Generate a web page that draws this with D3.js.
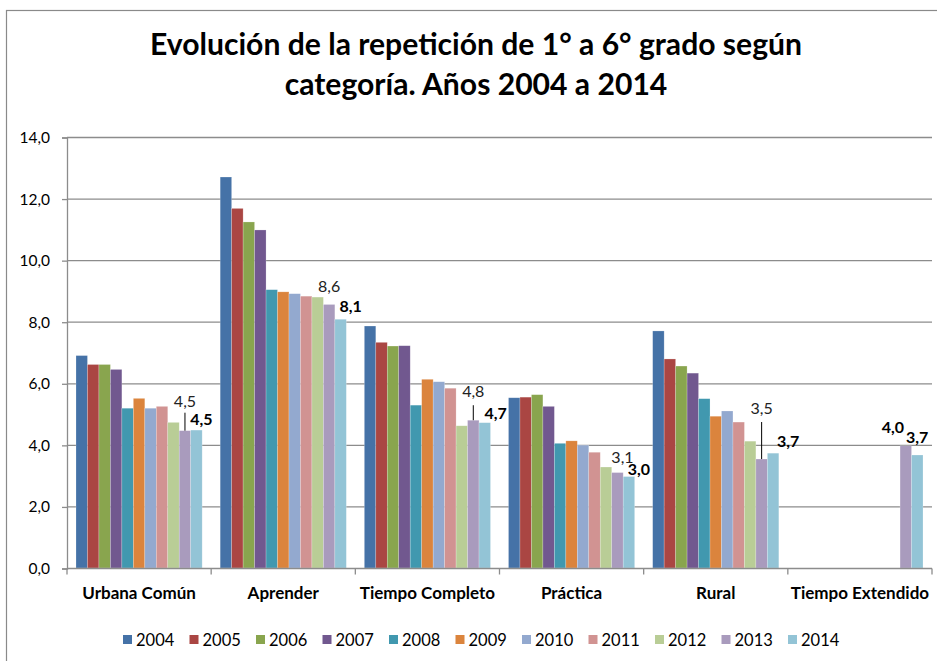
<!DOCTYPE html>
<html>
<head>
<meta charset="utf-8">
<script src="https://cdn.jsdelivr.net/npm/d3@7"></script>
<style>
  body { margin: 0; background: #fff; }
  text { font-family: Lato, "Liberation Sans", Arial, sans-serif; fill: #000; }
  .title { font-weight: bold; }
</style>
</head>
<body>
<div id="chart"></div>
<script>
// chart data
var categories = ["Urbana Común", "Aprender", "Tiempo Completo", "Práctica", "Rural", "Tiempo Extendido"];
var years = ["2004", "2005", "2006", "2007", "2008", "2009", "2010", "2011", "2012", "2013", "2014"];
var colors = ["#4572A7", "#AA4643", "#89A54E", "#71588F", "#4198AF", "#DB843D",
              "#93A9CF", "#D19392", "#B9CD96", "#A99BBD", "#93C4D6"];

var s2004 = [6.90, 12.70, 7.86, 5.53, 7.70, null];
var s2005 = [6.61, 11.68, 7.33, 5.55, 6.79, null];
var s2006 = [6.61, 11.24, 7.21, 5.63, 6.56, null];
var s2007 = [6.45, 10.98, 7.22, 5.25, 6.33, null];
var s2008 = [5.19, 9.04, 5.29, 4.05, 5.50, null];
var s2009 = [5.51, 8.97, 6.13, 4.13, 4.93, null];
var s2010 = [5.19, 8.91, 6.05, 3.99, 5.10, null];
var s2011 = [5.25, 8.83, 5.84, 3.76, 4.74, null];
var s2012 = [4.73, 8.80, 4.62, 3.28, 4.12, null];
var s2013 = [4.46, 8.56, 4.80, 3.10, 3.54, 3.97];
var s2014 = [4.48, 8.08, 4.72, 2.97, 3.73, 3.67];
var yTicks = [0, 2, 4, 6, 8, 10, 12, 14];

var titleLines = ["Evolución de la repetición de 1° a 6° grado según", "categoría. Años 2004 a 2014"];

var seriesValues = [s2004, s2005, s2006, s2007, s2008, s2009, s2010, s2011, s2012, s2013, s2014];

// which bars carry a label (only 2013 and 2014), plus how the label sits next to its bar
// dx/dy: shift from bar centre / bar top, lead: length of leader line, bold: style
var labelStyle = {
  "2013": [{dx: 0, dy: -24, lead: 18, bold: false}, {dx: 0, dy: -12, lead: 0, bold: false},
           {dx: 0, dy: -23, lead: 15, bold: false}, {dx: 5, dy: -10, lead: 0, bold: false},
           {dx: 0, dy: -45, lead: 37, bold: false}, {dx: -13, dy: -13, lead: 0, bold: true}],
  "2014": [{dx: 5, dy: -5, lead: 0, bold: true}, {dx: 10, dy: -7, lead: 0, bold: true},
           {dx: 11, dy: -4, lead: 0, bold: true}, {dx: 10, dy: -2, lead: 0, bold: true},
           {dx: 15, dy: -6, lead: 0, bold: true}, {dx: 0, dy: -12, lead: 0, bold: true}]
};

var W = 937, H = 661;
var plot = {left: 67, right: 932, top: 137, bottom: 568};

var locale = d3.formatLocale({decimal: ",", thousands: ".", grouping: [3], currency: ["", ""]});
var fmt = locale.format(".1f");

var svg = d3.select("#chart").append("svg")
  .attr("width", W)
  .attr("height", H);

// chart border
svg.append("rect")
  .attr("x", 6.5).attr("y", 10.5)
  .attr("width", W + 20).attr("height", H + 20)
  .attr("fill", "#fff")
  .attr("stroke", "#8a8a8a")
  .attr("stroke-width", 1.2);

// title, sized so the first line is about as wide as in the picture
var title = svg.selectAll(".title")
  .data(titleLines)
  .enter().append("text")
  .attr("class", "title")
  .attr("x", 476)
  .attr("y", function(d, i) { return 55 + i * 40; })
  .attr("text-anchor", "middle")
  .style("font-size", "28px")
  .text(function(d) { return d; });
var tw = title.node().getComputedTextLength();
title.style("font-size", (28 * 652 / tw).toFixed(2) + "px");

var x0 = d3.scaleBand()
  .domain(categories)
  .range([plot.left, plot.right]);

var x1 = d3.scaleBand()
  .domain(years)
  .range([9, x0.bandwidth() - 9]);

var y = d3.scaleLinear()
  .domain([0, 14])
  .range([plot.bottom, plot.top]);

// gridlines
svg.append("g")
  .selectAll("line")
  .data(yTicks.slice(1))
  .enter().append("line")
  .attr("x1", plot.left).attr("x2", plot.right)
  .attr("y1", function(d) { return y(d) + 0.5; })
  .attr("y2", function(d) { return y(d) + 0.5; })
  .attr("stroke", "#8c8c8c")
  .attr("stroke-width", 1.3);

// Y axis
var yAxis = svg.append("g")
  .attr("transform", "translate(" + plot.left + ",0.5)")
  .call(d3.axisLeft(y).tickValues(yTicks).tickSize(5).tickPadding(12).tickFormat(fmt));
yAxis.selectAll("text").style("font-size", "15.5px").style("font-family", "Lato, sans-serif");
yAxis.selectAll("line,path").attr("stroke", "#8c8c8c").attr("stroke-width", 1.3);

// bars
var groups = svg.append("g")
  .selectAll("g")
  .data(years)
  .enter().append("g")
  .attr("fill", function(d, i) { return colors[i]; });

groups.selectAll("rect")
  .data(function(yr, i) {
    return categories.map(function(c, j) { return {cat: c, year: yr, value: seriesValues[i][j]}; })
      .filter(function(d) { return d.value != null; });
  })
  .enter().append("rect")
  .attr("x", function(d) { return x0(d.cat) + x1(d.year); })
  .attr("y", function(d) { return y(d.value); })
  .attr("width", x1.bandwidth())
  .attr("height", function(d) { return y(0) - y(d.value); })
  .attr("stroke", "#ffffff")
  .attr("stroke-opacity", 0.35)
  .attr("stroke-width", 0.6);

// X axis
var xAxis = svg.append("g")
  .attr("transform", "translate(0," + (plot.bottom + 0.5) + ")");
xAxis.append("line")
  .attr("x1", plot.left).attr("x2", plot.right)
  .attr("stroke", "#8c8c8c").attr("stroke-width", 1.3);
xAxis.selectAll(".tk")
  .data(categories.concat([null]))
  .enter().append("line")
  .attr("class", "tk")
  .attr("x1", function(d) { return d == null ? plot.right : x0(d); })
  .attr("x2", function(d) { return d == null ? plot.right : x0(d); })
  .attr("y1", 0).attr("y2", 6)
  .attr("stroke", "#8c8c8c").attr("stroke-width", 1.3);
xAxis.selectAll(".cat")
  .data(categories)
  .enter().append("text")
  .attr("class", "cat")
  .attr("x", function(d) { return x0(d) + x0.bandwidth() / 2; })
  .attr("y", 30)
  .attr("text-anchor", "middle")
  .style("font-size", "17px")
  .style("font-weight", "bold")
  .text(function(d) { return d; });

// data labels for 2013 and 2014
var labelData = [];
["2013", "2014"].forEach(function(yr) {
  var vals = seriesValues[years.indexOf(yr)];
  categories.forEach(function(c, j) {
    if (vals[j] == null) return;
    labelData.push({cat: c, year: yr, value: vals[j], st: labelStyle[yr][j]});
  });
});

var labels = svg.append("g");
labels.selectAll("line")
  .data(labelData.filter(function(d) { return d.st.lead > 0; }))
  .enter().append("line")
  .attr("x1", function(d) { return x0(d.cat) + x1(d.year) + x1.bandwidth() / 2; })
  .attr("x2", function(d) { return x0(d.cat) + x1(d.year) + x1.bandwidth() / 2; })
  .attr("y1", function(d) { return y(d.value) - d.st.lead; })
  .attr("y2", function(d) { return y(d.value); })
  .attr("stroke", "#000")
  .attr("stroke-width", 1);

labels.selectAll("text")
  .data(labelData)
  .enter().append("text")
  .attr("x", function(d) { return x0(d.cat) + x1(d.year) + x1.bandwidth() / 2 + d.st.dx; })
  .attr("y", function(d) { return y(d.value) + d.st.dy; })
  .attr("text-anchor", "middle")
  .style("font-size", "16px")
  .style("font-weight", function(d) { return d.st.bold ? "bold" : "normal"; })
  .style("fill", function(d) { return d.st.bold ? "#000" : "#222"; })
  .text(function(d) { return fmt(d.value); });

// legend
var legend = svg.append("g")
  .selectAll("g")
  .data(years)
  .enter().append("g")
  .attr("transform", function(d, i) { return "translate(" + (123 + i * 66.5) + ",640)"; });

legend.append("rect")
  .attr("x", 0).attr("y", -5)
  .attr("width", 9).attr("height", 9)
  .attr("fill", function(d, i) { return colors[i]; });

legend.append("text")
  .attr("x", 13).attr("y", 5.5)
  .style("font-size", "16.5px")
  .text(function(d) { return d; });
</script>
</body>
</html>
